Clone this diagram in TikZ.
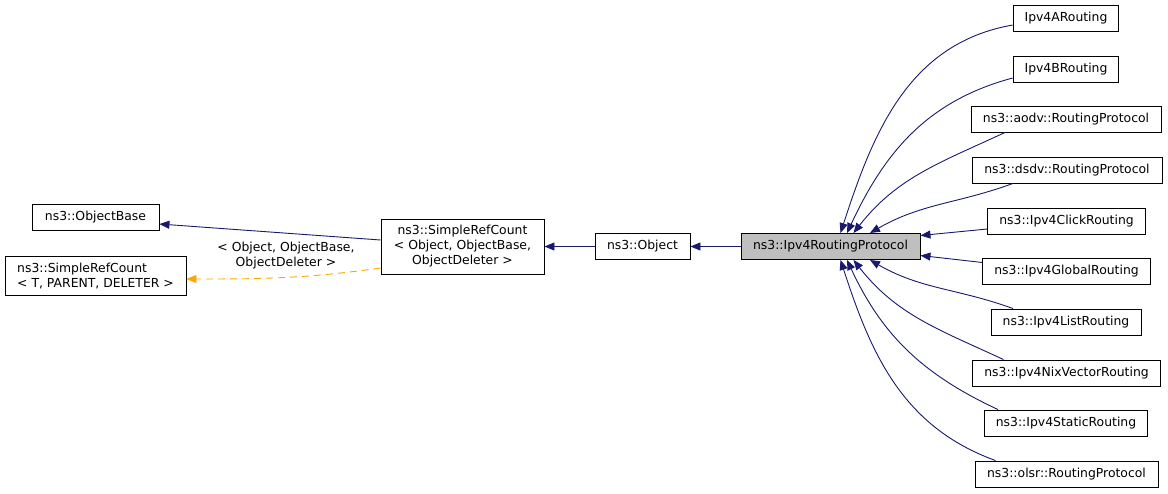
\documentclass[tikz,border=0pt]{standalone}
\usepackage{fontspec}
\setmainfont{DejaVu Sans}
\usetikzlibrary{arrows.meta}
\definecolor{edgeblue}{HTML}{191970}
\definecolor{tmplorange}{HTML}{FFA500}

\begin{document}
\begin{tikzpicture}[x=1pt, y=-1pt,
    every node/.style={font=\fontsize{12.4}{15}\selectfont},
    cls/.style={draw=black, line width=0.9pt, fill=white, inner xsep=11.5pt,
                inner ysep=6.5pt, minimum height=26pt},
    current/.style={cls, fill=black!25},
    inherit/.style={-{Triangle[length=10pt, width=8pt]}, line width=0.9pt, edgeblue},
    tmpl/.style={-{Triangle[length=10pt, width=8pt]}, line width=0.9pt, tmplorange,
                 dash pattern=on 7pt off 5pt}]

\useasboundingbox[fill=white] (0,0) rectangle (1168,493);

% ===================== LEFT: BASE CLASSES =====================
\node[cls, minimum width=127pt] (objbase) at (95.5,217) {ns3::ObjectBase};
\node[cls, align=left, minimum width=181pt] (srct) at (95.5,276)
    {ns3::SimpleRefCount\\< T, PARENT, DELETER >};

% ===================== MIDDLE: CHAIN =====================
\node[cls, align=center, minimum width=163pt] (src) at (462.5,246.5)
    {ns3::SimpleRefCount\\< Object, ObjectBase,\\ObjectDeleter >};
\node[cls, minimum width=95pt] (object) at (642.5,246.5) {ns3::Object};
\node[current, minimum width=179pt] (proto) at (830.5,246.5) {ns3::Ipv4RoutingProtocol};

% ===================== RIGHT: SUBCLASSES =====================
\node[cls, minimum width=104pt] (ipa) at (1066,18) {Ipv4ARouting};
\node[cls, minimum width=104pt] (ipb) at (1066,69) {Ipv4BRouting};
\node[cls, minimum width=190pt] (aodv) at (1066,119) {ns3::aodv::RoutingProtocol};
\node[cls, minimum width=190pt] (dsdv) at (1067,170) {ns3::dsdv::RoutingProtocol};
\node[cls, minimum width=155pt] (click) at (1066.5,221) {ns3::Ipv4ClickRouting};
\node[cls, minimum width=167pt] (global) at (1066.5,271.5) {ns3::Ipv4GlobalRouting};
\node[cls, minimum width=150pt] (list) at (1066,322) {ns3::Ipv4ListRouting};
\node[cls, minimum width=187pt] (nix) at (1066.5,373) {ns3::Ipv4NixVectorRouting};
\node[cls, minimum width=162pt] (static) at (1066,423) {ns3::Ipv4StaticRouting};
\node[cls, minimum width=183pt] (olsr) at (1066.5,474) {ns3::olsr::RoutingProtocol};

% inheritance edges
\draw[inherit] ([yshift=6.5pt]src.west) -- ([yshift=-7pt]objbase.east);
\draw[tmpl] ([yshift=-21.5pt]src.west) to[out=188, in=0] ([yshift=-3pt]srct.east);
\node[align=center] (tmpllabel) at (286,256) {< Object, ObjectBase,\\ObjectDeleter >};
\draw[inherit] (object.west) -- (src.east);
\draw[inherit] (proto.west) -- (object.east);

\draw[inherit] ([yshift=-7pt]ipa.west) to[out=190, in=72] ([xshift=10pt]proto.north);
\draw[inherit] ([yshift=-9pt]ipb.west) to[out=195, in=65] ([xshift=16.5pt]proto.north);
\draw[inherit] ([xshift=-61pt]aodv.south) to[out=205, in=52] ([xshift=23pt]proto.north);
\draw[inherit] ([xshift=-54pt]dsdv.south) to[out=200, in=30] ([xshift=39.5pt]proto.north);
\draw[inherit] ([yshift=-8pt]click.west) -- ([yshift=11pt]proto.east);
\draw[inherit] ([yshift=9pt]global.west) -- ([yshift=-9pt]proto.east);
\draw[inherit] ([xshift=-53pt]list.north) to[out=160, in=-30] ([xshift=39.5pt]proto.south);
\draw[inherit] ([xshift=-63pt]nix.north) to[out=155, in=-52] ([xshift=23pt]proto.south);
\draw[inherit] ([xshift=-68pt]static.north) to[out=155, in=-65] ([xshift=16.5pt]proto.south);
\draw[inherit] ([xshift=-71pt]olsr.north) to[out=160, in=-72] ([xshift=10pt]proto.south);

\end{tikzpicture}
\end{document}
